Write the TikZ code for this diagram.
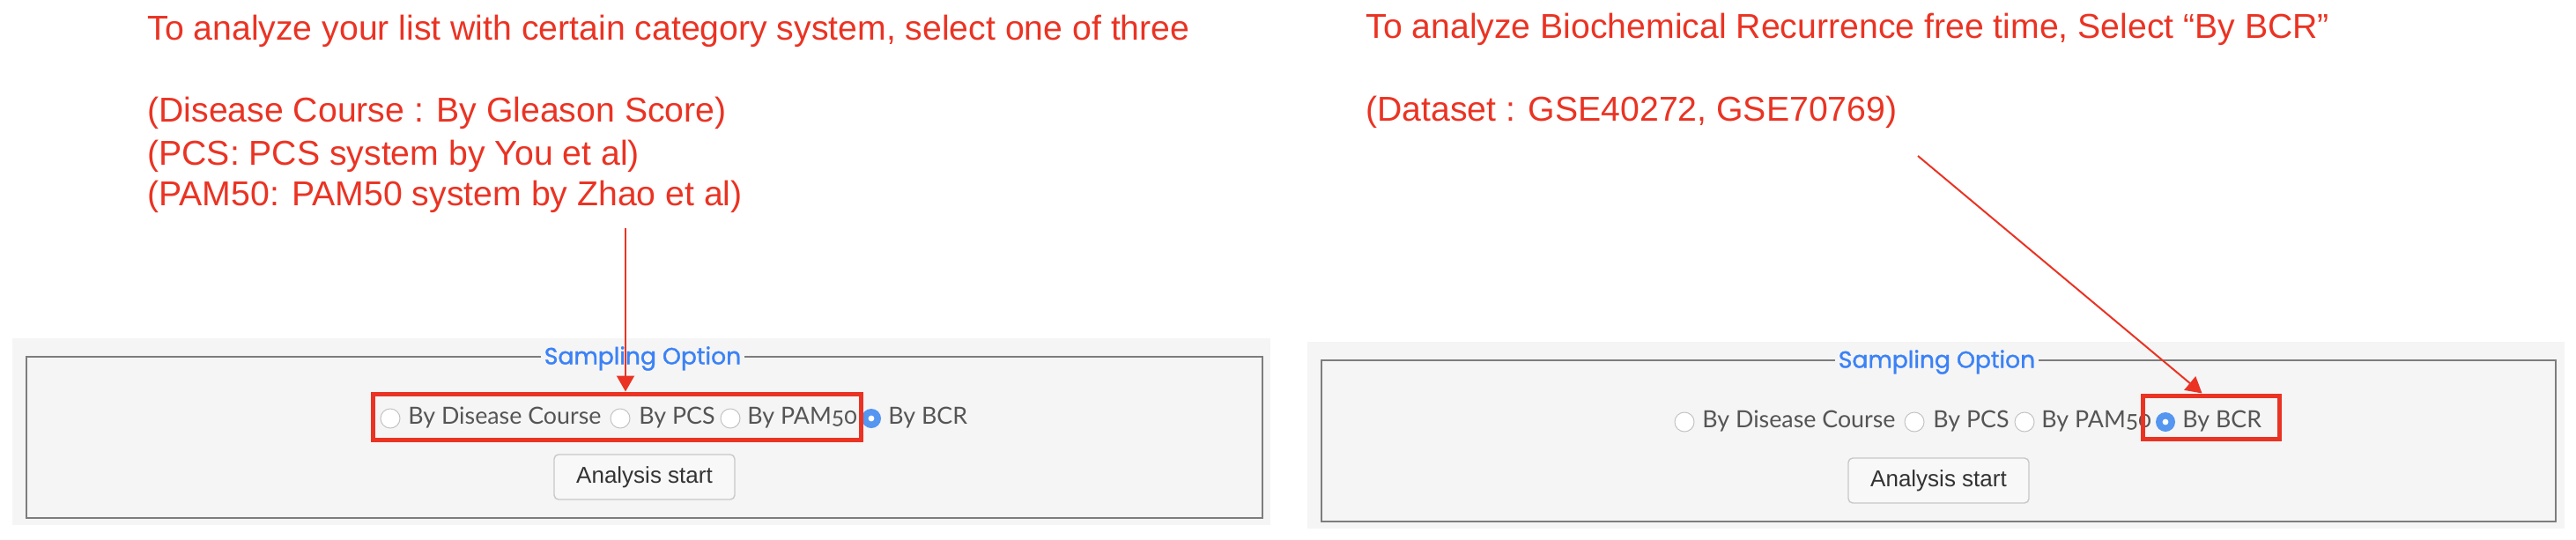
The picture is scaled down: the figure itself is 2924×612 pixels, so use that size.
\documentclass[tikz,border=0pt]{standalone}
\usepackage{fontspec}
\setmainfont{Liberation Sans}
\newfontfamily\uifont[Numbers=OldStyle]{Lato}
\newfontfamily\legendfont[FakeBold=1.3]{Poppins}
\usetikzlibrary{arrows.meta}
\definecolor{annot}{RGB}{234,51,35}
\definecolor{panelbg}{RGB}{245,245,245}
\definecolor{fsline}{RGB}{125,125,125}
\definecolor{legendblue}{RGB}{59,130,246}
\definecolor{uitext}{RGB}{85,85,85}
\definecolor{radioblue}{RGB}{84,150,240}
\definecolor{radioedge}{RGB}{195,195,195}
\definecolor{btnedge}{RGB}{200,200,200}
\definecolor{btnfill}{RGB}{248,248,248}
\definecolor{btntext}{RGB}{51,51,51}
\begin{document}
\begin{tikzpicture}[x=0.5pt,y=-0.5pt,
  annot/.style={text=annot, font=\fontsize{19.6}{23.5}\selectfont, anchor=base west, inner sep=0pt},
  uilabel/.style={text=uitext, font=\uifont\fontsize{13.4}{15}\selectfont, anchor=base west, inner sep=0pt},
  radio/.style={circle, draw=radioedge, fill=white, minimum size=11pt, inner sep=0pt, line width=0.5pt},
  radioon/.style={circle, fill=radioblue, minimum size=11pt, inner sep=0pt},
  radiodot/.style={circle, fill=white, minimum size=3.4pt, inner sep=0pt},
  panel/.style={fill=panelbg, draw=none},
  fieldset/.style={draw=fsline, line width=1.1pt},
  legendlbl/.style={fill=panelbg, text=legendblue, font=\legendfont\fontsize{13.3}{15}\selectfont, inner xsep=2pt, inner ysep=1pt},
  button/.style={draw=btnedge, fill=btnfill, rounded corners=2.5pt, line width=0.7pt, text=btntext, font=\fontsize{13}{15}\selectfont, minimum width=102.5pt, minimum height=25.5pt, inner sep=0pt},
  hilite/.style={draw=annot, line width=2.5pt, inner sep=0pt},
  pointer/.style={draw=annot, line width=1pt, -{Triangle[width=10pt,length=9pt]}}
]
\useasboundingbox (0,0) rectangle (2924,612);

% ---------- annotations ----------
\node[annot] (tL1) at (167,45) {To analyze your list with certain category system, select one of three};
\node[annot] (tL2) at (167,138) {(Disease Course : By Gleason Score)};
\node[annot] (tL3) at (167,187) {(PCS: PCS system by You et al)};
\node[annot] (tL4) at (167,233) {(PAM50: PAM50 system by Zhao et al)};
\node[annot] (tR1) at (1550,43) {To analyze Biochemical Recurrence free time, Select “By BCR”};
\node[annot] (tR2) at (1550,137) {(Dataset : GSE40272, GSE70769)};

% ---------- left panel ----------
\fill[panel] (14,384) rectangle (1442,596);
\draw[fieldset] (30,405) rectangle (1433,588);
\node[legendlbl] (legL) at (729.5,407) {Sampling Option};
\node[radio] (rL1) at (443,475) {};
\node[uilabel] (lL1) at (463,481) {By Disease Course};
\node[radio] (rL2) at (704,475) {};
\node[uilabel] (lL2) at (725,481) {By PCS};
\node[radio] (rL3) at (829,475) {};
\node[uilabel] (lL3) at (848,481) {By PAM50};
\node[radioon] (rL4) at (989,475) {};
\node[radiodot] (dL4) at (rL4) {};
\node[uilabel] (lL4) at (1008,481) {By BCR};
\node[button] (bL) at (731.5,541.5) {Analysis start};
\node[hilite, minimum width=277pt, minimum height=26pt] (selL) at (700,473) {};

% ---------- right panel ----------
\fill[panel] (1484,388) rectangle (2911,600);
\draw[fieldset] (1500,409) rectangle (2901,592);
\node[legendlbl] (legR) at (2198.5,411) {Sampling Option};
\node[radio] (rR1) at (1912,479) {};
\node[uilabel] (lR1) at (1932,485) {By Disease Course};
\node[radio] (rR2) at (2173,479) {};
\node[uilabel] (lR2) at (2194,485) {By PCS};
\node[radio] (rR3) at (2298,479) {};
\node[uilabel] (lR3) at (2317,485) {By PAM50};
\node[radioon] (rR4) at (2458,479) {};
\node[radiodot] (dR4) at (rR4) {};
\node[uilabel] (lR4) at (2477,485) {By BCR};
\node[button] (bR) at (2200.5,545.5) {Analysis start};
\node[hilite, minimum width=77.5pt, minimum height=24.5pt] (selR) at (2509.5,473.5) {};

% ---------- pointers ----------
\coordinate (srcL) at (710,259);
\coordinate (srcR) at (2177,177);
\draw[pointer] (srcL) -- (srcL |- selL.north);
\draw[pointer] (srcR) -- ([xshift=-5pt]selR.north);
\end{tikzpicture}
\end{document}
